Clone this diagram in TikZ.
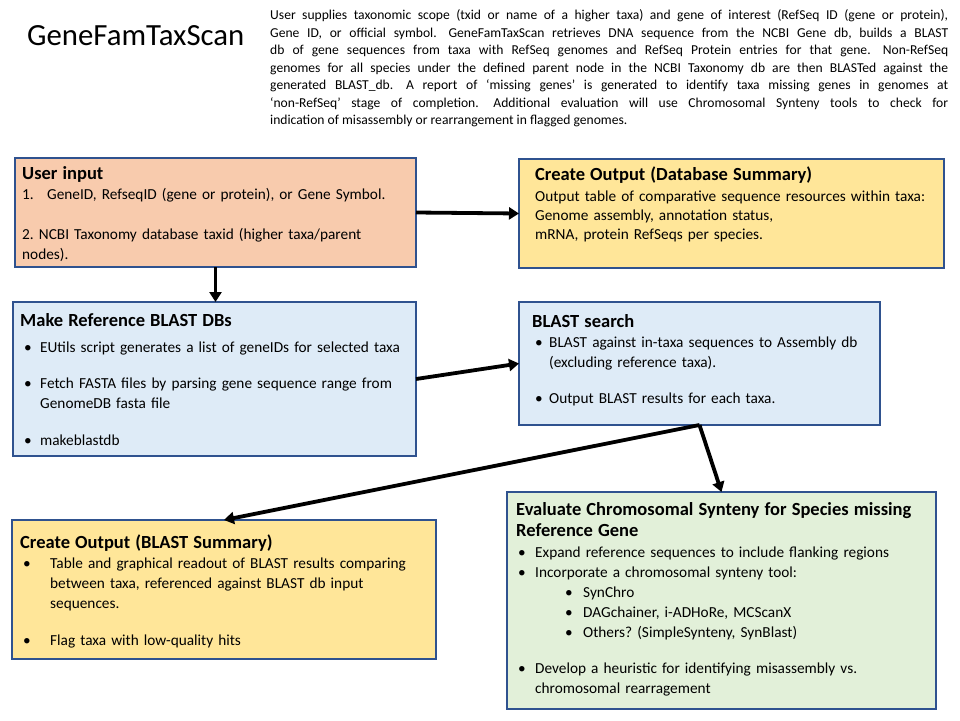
\documentclass[tikz,border=0pt]{standalone}
\usepackage{fontspec}
\setmainfont{Carlito}
\usetikzlibrary{arrows.meta}

\definecolor{boxline}{HTML}{2F528F}
\definecolor{inputfill}{HTML}{F8CBAD}
\definecolor{outfill}{HTML}{FFE699}
\definecolor{blastfill}{HTML}{DEEBF7}
\definecolor{synfill}{HTML}{E2F0D9}

\newcommand{\boxtitle}[2][20pt]{{\fontsize{18.5}{#1}\selectfont\bfseries\rule{0pt}{18.5pt}#2\par}}
\newcommand{\bitem}[3]{\par\noindent\hangindent=#2\hangafter=1\makebox[#2][l]{\hspace*{#1}\textbullet}#3\par}
\newcommand{\gap}{\hspace{0.3em} }
\frenchspacing

\begin{document}
\begin{tikzpicture}[x=1pt, y=-1pt,
  panel/.style={draw=boxline, line width=1.2pt, inner sep=0pt, outer sep=0pt, anchor=north west},
  boxtxt/.style={anchor=north west, inner sep=0pt, align=left, font=\fontsize{15.3}{20}\selectfont},
  flow/.style={-{Triangle[length=10pt,width=12pt]}, line width=3.8pt, black}]
\fill[white] (0,0) rectangle (960,720);
\useasboundingbox (0,0) rectangle (960,720);

% Title and summary
\node[anchor=base west, inner sep=0pt, font=\fontsize{30.8}{34}\selectfont] (title) at (27,45) {GeneFamTaxScan};
\node[anchor=north west, inner sep=0pt, text width=678pt, align=justify, font=\fontsize{13.6}{17.5}\selectfont] (intro) at (270,5.9)
  {\rule{0pt}{13.6pt}User supplies taxonomic scope (txid or name of a higher taxa) and gene of interest (RefSeq ID (gene or protein),\linebreak
  Gene ID, or official symbol.\gap GeneFamTaxScan retrieves DNA sequence from the NCBI Gene db, builds a BLAST\linebreak
  db of gene sequences from taxa with RefSeq genomes and RefSeq Protein entries for that gene.\gap Non-RefSeq\linebreak
  genomes for all species under the defined parent node in the NCBI Taxonomy db are then BLASTed against the\linebreak
  generated BLAST\_db.\gap A report of ‘missing genes’ is generated to identify taxa missing genes in genomes at\linebreak
  ‘non-RefSeq’ stage of completion.\gap Additional evaluation will use Chromosomal Synteny tools to check for\linebreak
  indication of misassembly or rearrangement in flagged genomes.};

% User input
\node[panel, fill=inputfill, minimum width=401pt, minimum height=109pt] (user) at (15,158) {};
\node[boxtxt, text width=390pt] (user-txt) at (22,160.5)
  {\boxtitle{User input}
  \noindent\makebox[25pt][l]{1.}GeneID, RefseqID (gene or protein), or Gene Symbol.\par\vspace{20pt}
  \noindent 2. NCBI Taxonomy database taxid (higher taxa/parent\newline nodes).};

% Create Output (Database Summary)
\node[panel, fill=outfill, minimum width=425pt, minimum height=109pt] (dbsum) at (519,159) {};
\node[boxtxt, text width=405pt, font=\fontsize{15.3}{19}\selectfont] (dbsum-txt) at (535,161.5)
  {\boxtitle[19pt]{Create Output (Database Summary)}\vspace{2pt}
  \noindent Output table of comparative sequence resources within taxa:\newline
  Genome assembly, annotation status,\newline
  mRNA, protein RefSeqs per species.};

% Make Reference BLAST DBs
\node[panel, fill=blastfill, minimum width=403pt, minimum height=154pt] (ref) at (13,302) {};
\node[boxtxt, text width=392pt] (ref-txt) at (20,307.5)
  {\boxtitle{Make Reference BLAST DBs}\vspace{6pt}
  \bitem{4pt}{20pt}{EUtils script generates a list of geneIDs for selected taxa}\vspace{16pt}
  \bitem{4pt}{20pt}{Fetch FASTA files by parsing gene sequence range from\newline GenomeDB fasta file}\vspace{17pt}
  \bitem{4pt}{20pt}{makeblastdb}};

% BLAST search
\node[panel, fill=blastfill, minimum width=361pt, minimum height=123pt] (blast) at (519,302) {};
\node[boxtxt, text width=345pt] (blast-txt) at (532,308.5)
  {\boxtitle{BLAST search}
  \bitem{3pt}{17pt}{BLAST against in-taxa sequences to Assembly db\newline (excluding reference taxa).}\vspace{16pt}
  \bitem{3pt}{17pt}{Output BLAST results for each taxa.}};

% Create Output (BLAST Summary)
\node[panel, fill=outfill, minimum width=424pt, minimum height=139pt] (blastout) at (12,520) {};
\node[boxtxt, text width=412pt] (blastout-txt) at (20,529.5)
  {\boxtitle{Create Output (BLAST Summary)}
  \bitem{3pt}{30pt}{Table and graphical readout of BLAST results comparing\newline between taxa, referenced against BLAST db input\newline sequences.}\vspace{17pt}
  \bitem{3pt}{30pt}{Flag taxa with low-quality hits}};

% Evaluate Chromosomal Synteny
\node[panel, fill=synfill, minimum width=429pt, minimum height=217pt] (eval) at (507,492) {};
\node[boxtxt, text width=418pt] (eval-txt) at (516,496.5)
  {\boxtitle[21.5pt]{Evaluate Chromosomal Synteny for Species missing\\Reference Gene}\vspace{1pt}
  \bitem{2pt}{19pt}{Expand reference sequences to include flanking regions}
  \bitem{2pt}{19pt}{Incorporate a chromosomal synteny tool:}
  \bitem{49pt}{67pt}{SynChro}
  \bitem{49pt}{67pt}{DAGchainer, i-ADHoRe, MCScanX}
  \bitem{49pt}{67pt}{Others? (SimpleSynteny, SynBlast)}\vspace{16pt}
  \bitem{2pt}{19pt}{Develop a heuristic for identifying misassembly vs.\newline chromosomal rearragement}};

% Connectors
\draw[flow] (user.south) -- (user.south |- ref.north);
\draw[flow] (user.east) -- (dbsum.west);
\draw[flow] (ref.east) -- (blast.west);
\draw[flow] (blast.south) -- (blastout.north);
\draw[flow] (blast.south) -- (eval.north);
\end{tikzpicture}
\end{document}
